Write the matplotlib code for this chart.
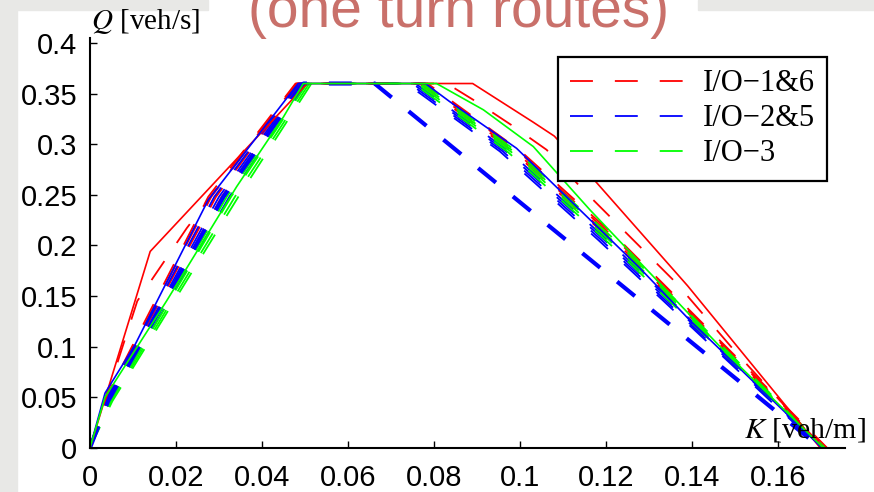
import matplotlib
matplotlib.use("Agg")
import matplotlib.pyplot as plt
from matplotlib.patches import Rectangle

plt.rcParams['lines.scale_dashes'] = False
plt.rcParams['mathtext.fontset'] = 'stix'

# measured flow-density curves (solid)
k_meas_16 = [0, 0.014, 0.0505, 0.089, 0.103, 0.108, 0.117, 0.139, 0.1698]
q_meas_16 = [0, 0.194, 0.36, 0.36, 0.322, 0.308, 0.266, 0.16, 0.0]
k_meas_25 = [0, 0.0035, 0.0105, 0.0275, 0.0484, 0.078, 0.0837, 0.0992, 0.1279, 0.1395, 0.1702]
q_meas_25 = [0, 0.054, 0.102, 0.245, 0.36, 0.36, 0.342, 0.296, 0.1775, 0.126, 0.0]
k_meas_3 = [0, 0.0035, 0.0178, 0.0341, 0.045, 0.0496, 0.0806, 0.0915, 0.1031, 0.1163, 0.1314, 0.148, 0.1705]
q_meas_3 = [0, 0.05, 0.145, 0.258, 0.327, 0.36, 0.36, 0.334, 0.2977, 0.235, 0.1675, 0.0934, 0.0]

# model curves (dashed), all sharing the same flow breakpoints
q_model = [0, 0.046, 0.248, 0.36, 0.36, 0.293, 0.205, 0.0]
k_model_16 = [
    [0, 0.0033, 0.0275, 0.0478, 0.0785, 0.1002, 0.1232, 0.1714],
    [0, 0.0035, 0.0282, 0.0482, 0.0779, 0.0996, 0.1226, 0.1712],
    [0, 0.0038, 0.0293, 0.0488, 0.0772, 0.0989, 0.1219, 0.1710],
    [0, 0.0042, 0.0306, 0.0494, 0.0766, 0.0983, 0.1213, 0.1708],
]
k_model_25 = [
    [0, 0.0036, 0.0289, 0.0486, 0.0757, 0.0974, 0.1204, 0.1706],
    [0, 0.0040, 0.0300, 0.0491, 0.0750, 0.0967, 0.1197, 0.1704],
    [0, 0.0044, 0.0313, 0.0498, 0.0743, 0.0960, 0.1190, 0.1701],
    [0, 0.0047, 0.0324, 0.0503, 0.0736, 0.0953, 0.1183, 0.1699],
]
k_model_3 = [
    [0, 0.0043, 0.0318, 0.0500, 0.0775, 0.0992, 0.1222, 0.1709],
    [0, 0.0046, 0.0328, 0.0505, 0.0768, 0.0985, 0.1215, 0.1707],
    [0, 0.0049, 0.0337, 0.0510, 0.0761, 0.0978, 0.1208, 0.1705],
    [0, 0.0052, 0.0345, 0.0515, 0.0753, 0.0970, 0.1200, 0.1703],
]

# extra red model curve sitting above the bundle
k_model_16b = [0, 0.011, 0.0225, 0.048, 0.083, 0.0891, 0.098, 0.1062, 0.1143, 0.1364, 0.1504, 0.1705]
q_model_16b = [0, 0.145, 0.217, 0.36, 0.36, 0.344, 0.319, 0.2945, 0.2566, 0.1626, 0.0934, 0.0]

# lower blue model curve (drawn thicker)
k_model_25b = [0, 0.0042, 0.031, 0.0497, 0.0662, 0.1699]
q_model_25b = [0, 0.046, 0.248, 0.36, 0.36, 0.0]

labels = ['I/O\u22121&6', 'I/O\u22122&5', 'I/O\u22123']
xticks = [0, 0.02, 0.04, 0.06, 0.08, 0.1, 0.12, 0.14, 0.16]
xticklabels = ['0', '0.02', '0.04', '0.06', '0.08', '0.1', '0.12', '0.14', '0.16']
yticks = [0, 0.05, 0.1, 0.15, 0.2, 0.25, 0.3, 0.35, 0.4]
yticklabels = ['0', '0.05', '0.1', '0.15', '0.2', '0.25', '0.3', '0.35', '0.4']

dash = (16.5, 15.8)
red, blue, green = '#ff0000', '#0000ff', '#00ff00'

fig = plt.figure(figsize=(8.74, 4.92), dpi=100)
fig.patch.set_facecolor('white')
gray = '#e8e8e6'
fig.patches.append(Rectangle((0, 0), 17 / 874, 1, transform=fig.transFigure,
                             color=gray, zorder=-5))
fig.patches.append(Rectangle((0, 1 - 10 / 492), 208 / 874, 10 / 492,
                             transform=fig.transFigure, color=gray, zorder=-5))
fig.patches.append(Rectangle((698 / 874, 1 - 10 / 492), 176 / 874, 10 / 492,
                             transform=fig.transFigure, color=gray, zorder=-5))

ax = fig.add_axes([90 / 874, 1 - 447.7 / 492, 755 / 874, 409.7 / 492])
ax.patch.set_alpha(0)

handles = []
for ks, c in [(k_model_16, red), (k_model_25, blue), (k_model_3, green)]:
    for i, k in enumerate(ks):
        ln, = ax.plot(k, q_model, color=c, lw=1.3, dashes=dash)
        if i == 0:
            handles.append(ln)

ax.plot(k_model_16b, q_model_16b, color=red, lw=1.3, dashes=dash)
ax.plot(k_model_25b, q_model_25b, color=blue, lw=3.0, dashes=dash)

ax.plot(k_meas_16, q_meas_16, color=red, lw=1.2)
ax.plot(k_meas_25, q_meas_25, color=blue, lw=1.2)
ax.plot(k_meas_3, q_meas_3, color=green, lw=1.2)

ax.set_xlim(0, 0.1756)
ax.set_ylim(0, 0.405)
ax.spines['top'].set_visible(False)
ax.spines['right'].set_visible(False)
for s in ['left', 'bottom']:
    ax.spines[s].set_linewidth(1.5)
ax.set_xticks(xticks)
ax.set_xticklabels(xticklabels)
ax.set_yticks(yticks)
ax.set_yticklabels(yticklabels)
ax.tick_params(direction='in', length=5, width=1, labelsize=21)
ax.tick_params(axis='x', pad=12)
ax.tick_params(axis='y', pad=9)
for lab in ax.get_xticklabels() + ax.get_yticklabels():
    lab.set_family('Liberation Sans')

fig.text(91 / 874, 1 - 29 / 492, '$Q$ [veh/s]', fontsize=21,
         family='Liberation Serif', va='baseline', ha='left')
fig.text(744 / 874, 1 - 437 / 492, '$K$ [veh/m]', fontsize=21.5,
         family='Liberation Serif', va='baseline', ha='left')

fig.text(248 / 874, 1 - 27 / 492, '(one turn routes)', fontsize=41,
         color='#c9706a', family='Liberation Sans', va='baseline', ha='left')

leg = ax.legend(handles, labels, loc='upper right',
                bbox_to_anchor=(827 / 874, 1 - 57 / 492),
                bbox_transform=fig.transFigure, borderaxespad=0,
                prop={'family': 'Liberation Serif', 'size': 22},
                handlelength=3.9, handletextpad=0.45, borderpad=0.4,
                labelspacing=0.2, fancybox=False, framealpha=1)
leg.get_frame().set_edgecolor('black')
leg.get_frame().set_linewidth(1.6)

fig.savefig('out.png', dpi=100)
